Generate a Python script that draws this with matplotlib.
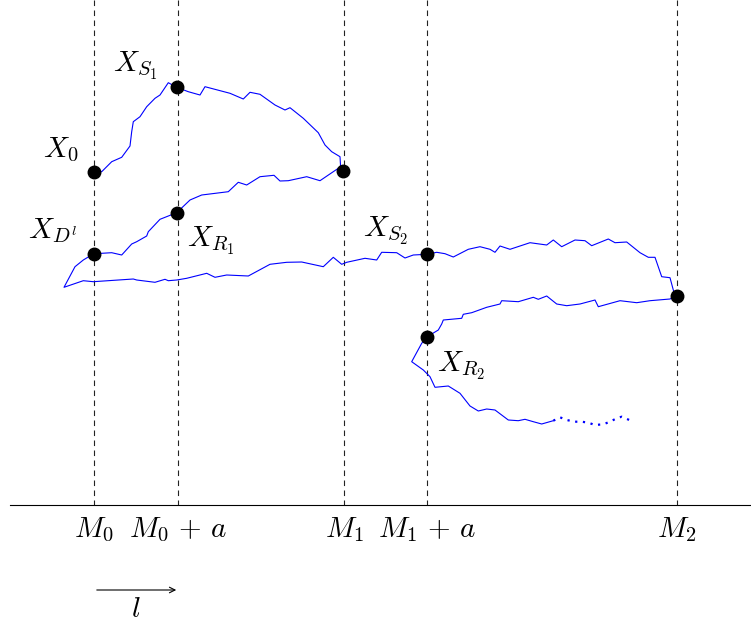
import matplotlib
matplotlib.use("Agg")
import matplotlib.pyplot as plt

plt.rcParams['mathtext.fontset'] = 'cm'

# vertical reference positions (pixel-like units, y downward)
m_x = [94, 178, 344, 427, 677]
m_labels = [r'$M_0$', r'$M_0\,+\,a$', r'$M_1$', r'$M_1\,+\,a$', r'$M_2$']

# path of the process (x, y)
path_x = [93.3, 101.7, 111.7, 121.7, 130, 131.7, 133.3, 140, 146.7, 155, 160, 168.3, 176.7,
          188.3, 200, 205, 230, 243.3, 250, 260, 275, 285, 290, 303.3, 318.3, 325, 331.7, 340, 340.7, 342.7,
          338.3, 320, 306.7, 288.3, 280, 274, 260, 246.7, 238.3, 228.3, 201.7, 190, 176.7,
          160, 148.3, 146.7, 136.7, 131.7, 121.7, 111.7, 101.7, 93.3,
          83.3, 75, 64,
          83.3, 93.3, 133.3, 136.7, 155, 165, 168.3, 176.7, 186.7, 206.7, 215, 226.7, 248.3, 270, 286.7,
          301.7, 323.3, 333.3, 341.7, 346.7, 365, 376.7, 381.7, 396.7, 405, 413.3, 426.7,
          436.7, 445, 453.3, 468.3, 480, 490, 495, 500, 510, 530, 546.7, 553.3, 561.7, 575, 585, 591.7,
          608.3, 615, 626.7, 640, 648.3, 655, 661.7, 670, 673.3, 676,
          670, 650, 636.7, 620, 598.3, 595, 580, 566.7, 556.7, 546.7, 538.3, 533.3, 518.3, 501.7, 500,
          486.7, 471.7, 463.3, 461.7, 443.3, 441.7, 438.3, 431.7, 426.7,
          421.7, 411.7, 423.3, 430, 435, 448.3, 460, 470, 478.3, 486.7, 495, 508.3, 518.3, 525, 533.3,
          541.7, 553.3]
path_y = [171.7, 171.7, 161.7, 157.3, 146, 131.7, 121.7, 116.7, 106.7, 98.3, 95, 82.7, 87.3,
          91.7, 95, 86.7, 93.3, 99, 92.3, 94.3, 105, 110, 107.7, 118.3, 132.7, 145, 151.7, 156.7, 168.3, 171.7,
          168.3, 180.7, 176.7, 180.7, 181, 175.3, 176.7, 185, 182.3, 191.7, 195, 200, 212.7,
          219.3, 231.7, 236, 241.7, 244, 255, 252.7, 253.3, 254,
          260, 266.7, 287.3,
          280.7, 281.7, 279, 280, 282.3, 279.3, 280.7, 280, 278.3, 273.3, 277.3, 275, 276, 264.3, 262.3,
          262, 266.7, 257.3, 264.3, 262.3, 258.3, 260, 252.3, 252.7, 258, 255, 254.3,
          252.3, 253.7, 257, 249.3, 246.7, 249.3, 252.3, 246, 249.3, 242.7, 245, 240, 246.7, 240, 240.7, 245.7,
          239, 242.7, 242, 252.7, 257.3, 257.3, 276.7, 277.7, 290, 296,
          299, 300.7, 302.7, 300.7, 306.7, 300, 304, 305.7, 304, 296, 299.3, 297.3, 301.7, 300.7, 304,
          307.3, 312.7, 314.3, 318.3, 320, 324, 330, 334, 337.3,
          343.3, 361.7, 370, 376.7, 387.3, 386, 393.3, 406, 411, 409, 410, 420, 420.7, 419.3, 421.7,
          424, 420.7]

dot_path_x = [553.3, 560, 566.7, 575, 581.7, 588.3, 595, 603.3, 610, 616.7, 621.7, 629.3]
dot_path_y = [420.7, 417.3, 420, 421.7, 421.7, 422.7, 425, 424.3, 421.7, 418.3, 416.7, 420]

# marked points
pt_x = [93.5, 177, 343, 177, 93.5, 427, 677, 427]
pt_y = [171.5, 87, 171, 212.5, 254, 254, 295.5, 337]

labels = [r'$X_0$', r'$X_{S_1}$', r'$X_{D^l}$', r'$X_{R_1}$', r'$X_{S_2}$', r'$X_{R_2}$']
label_x = [43, 113, 28, 187, 363, 437]
label_y = [157, 72, 238, 247, 237, 372]

fig = plt.figure(figsize=(7.51, 6.22), dpi=100)
ax = fig.add_axes([0, 0, 1, 1])
ax.set_xlim(0, 751)
ax.set_ylim(622, 0)
ax.axis('off')

axis_y = 505
for x in m_x:
    ax.plot([x, x], [0, axis_y], color='#222222', lw=0.8, linestyle=(0, (5, 4)))
ax.plot([10, 751], [axis_y, axis_y], color='black', lw=0.8)

for x, lab in zip(m_x, m_labels):
    ax.text(x, 537, lab, fontsize=21, ha='center', va='baseline')

ax.plot(path_x, path_y, color='blue', lw=0.8)
ax.plot(dot_path_x, dot_path_y, color='blue', lw=1.6, linestyle=(0, (1, 2.5)))

ax.plot(pt_x, pt_y, 'o', color='black', ms=9, zorder=5)

for x, y, lab in zip(label_x, label_y, labels):
    ax.text(x, y, lab, fontsize=21, ha='left', va='baseline')

ax.annotate('', xy=(179, 590), xytext=(94, 590),
            arrowprops=dict(arrowstyle='->', color='black', lw=0.8))
ax.text(136, 617, r'$l$', fontsize=21, ha='center', va='baseline')

fig.savefig('out.png', dpi=100)
